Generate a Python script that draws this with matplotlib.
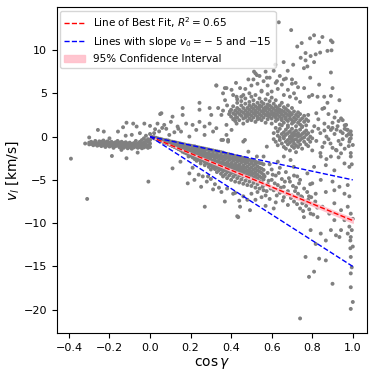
import numpy as np
import matplotlib
matplotlib.use("Agg")
import matplotlib.pyplot as plt

# ---- data (cos gamma, v_l) ----
# dense clusters written as columns: (x, [y values])
tail_cols = [
    (-0.32, [-0.8]), (-0.30, [-0.7, -0.9]), (-0.29, [-0.85, -0.6]),
    (-0.28, [-0.75, -1.0]), (-0.27, [-0.9, -0.65, -0.5]), (-0.26, [-0.8, -1.05]),
    (-0.25, [-0.7, -0.95, -0.55]), (-0.24, [-0.85, -1.1, -0.6]), (-0.23, [-0.75, -1.0, -0.45]),
    (-0.22, [-0.9, -0.65, -1.2]), (-0.21, [-0.8, -1.0, -0.55]), (-0.20, [-0.7, -0.95, -1.15]),
    (-0.19, [-0.85, -0.6, -1.05]), (-0.18, [-0.75, -1.0, -1.3]), (-0.17, [-0.9, -0.65, -1.1]),
    (-0.16, [-0.8, -1.05, -0.5]), (-0.15, [-0.95, -0.7, -1.25]), (-0.14, [-0.85, -1.1, -0.6]),
    (-0.13, [-1.0, -0.75, -1.3]), (-0.12, [-0.9, -1.15, -0.65]), (-0.11, [-1.05, -0.8, -1.35]),
    (-0.10, [-0.95, -1.2, -0.7]), (-0.09, [-1.1, -0.85, -1.4]), (-0.08, [-1.0, -1.25, -0.75]),
    (-0.07, [-1.15, -0.9, -0.5]), (-0.06, [-1.05, -1.3, -0.8]), (-0.05, [-1.2, -0.95, -0.6]),
    (-0.04, [-1.1, -1.35, -0.85, -0.4]), (-0.03, [-1.25, -1.0, -0.7, -0.2]),
    (-0.02, [-1.15, -0.9, -0.5, 0.1]), (-0.01, [-1.3, -1.05, -0.6, -0.3]),
    (0.00, [-1.2, -0.8, -0.4, 0.3]),
]

wedge_cols = [
    (0.01, [-0.05, -0.1]), (0.02, [-0.12, -0.2, -0.08]), (0.03, [-0.2, -0.28, -0.14]),
    (0.04, [-0.22, -0.38, -0.3]), (0.05, [-0.3, -0.45, -0.26, -0.52]),
    (0.06, [-0.33, -0.55, -0.42]), (0.07, [-0.4, -0.62, -0.51, -0.7]),
    (0.08, [-0.41, -0.77, -0.58]), (0.09, [-0.5, -0.66, -0.88, -0.45]),
    (0.10, [-0.55, -0.98, -0.72, -0.85]), (0.11, [-0.6, -0.8, -1.1, -0.95]),
    (0.12, [-0.63, -1.2, -0.9, -0.74]), (0.13, [-0.7, -1.02, -1.3, -0.85, -1.15]),
    (0.14, [-0.75, -1.25, -0.95, -1.45]), (0.15, [-0.8, -1.1, -1.55, -1.35, -0.93]),
    (0.16, [-0.85, -1.28, -1.62, -1.05, -1.75]), (0.17, [-0.9, -1.45, -1.18, -1.85, -1.6]),
    (0.18, [-1.0, -1.32, -1.7, -1.95, -1.52]), (0.19, [-1.0, -1.6, -1.25, -2.05, -1.82, -2.3]),
    (0.20, [-1.05, -1.48, -1.92, -1.7, -2.2]), (0.21, [-1.1, -1.35, -1.75, -2.1, -2.4, -1.58]),
    (0.22, [-1.12, -1.9, -1.5, -2.25, -2.6, -2.0]), (0.23, [-1.2, -1.65, -2.05, -1.45, -2.45, -2.8]),
    (0.24, [-1.25, -1.8, -2.3, -1.55, -2.65, -2.05]), (0.25, [-1.3, -2.0, -1.7, -2.5, -2.85, -2.25, -3.1]),
    (0.26, [-1.35, -1.85, -2.2, -2.7, -1.6, -2.45]), (0.27, [-1.4, -2.1, -1.75, -2.55, -2.95, -2.35, -3.3]),
    (0.28, [-1.45, -1.95, -2.3, -2.75, -3.05, -2.5]), (0.29, [-1.5, -2.2, -1.85, -2.65, -3.2, -2.45, -3.5]),
    (0.30, [-1.55, -2.05, -2.4, -2.9, -3.3, -2.7, -3.8]), (0.31, [-1.6, -2.3, -1.95, -2.8, -3.1, -3.55]),
    (0.32, [-1.65, -2.15, -2.55, -3.0, -3.4, -2.8, -3.75]), (0.33, [-1.7, -2.4, -2.05, -2.9, -3.25, -3.6, -4.1]),
    (0.34, [-1.75, -2.25, -2.7, -3.15, -3.5, -2.95, -3.9]), (0.35, [-1.8, -2.5, -2.15, -3.05, -3.4, -3.75, -4.3]),
    (0.36, [-1.85, -2.35, -2.8, -3.3, -3.6, -3.05, -4.0, -4.6]),
    (0.37, [-1.95, -2.6, -2.25, -3.15, -3.5, -3.85, -4.4]),
    (0.38, [-2.0, -2.45, -2.95, -3.4, -3.7, -4.1, -4.8, -3.2]),
    (0.39, [-2.05, -2.7, -2.3, -3.25, -3.6, -4.0, -4.5]),
    (0.40, [-2.1, -2.55, -3.05, -3.5, -3.85, -4.25, -5.0, -3.3]),
    (0.41, [-2.2, -2.8, -2.45, -3.3, -3.7, -4.1, -4.65]),
    (0.42, [-2.25, -2.65, -3.15, -3.6, -3.95, -4.4, -5.2, -3.4]),
    (0.43, [-2.3, -2.9, -2.55, -3.4, -3.8, -4.2, -4.8]),
    (0.44, [-2.35, -2.75, -3.25, -3.7, -4.05, -4.5, -5.3, -3.5]),
    (0.45, [-2.4, -3.0, -2.65, -3.55, -3.9, -4.35, -4.95]),
    (0.46, [-2.5, -2.85, -3.35, -3.8, -4.15, -4.6, -5.45, -3.65]),
    (0.47, [-2.55, -3.1, -2.75, -3.6, -4.0, -4.45, -5.1]),
    (0.48, [-2.6, -2.95, -3.45, -3.9, -4.3, -4.75, -5.6]),
    (0.49, [-2.7, -3.2, -3.7, -4.1, -4.55, -5.2]),
    (0.50, [-2.75, -3.05, -3.55, -4.0, -4.4, -4.9, -5.7]),
    (0.51, [-2.8, -3.3, -3.8, -4.25, -4.7, -5.35]),
    (0.52, [-2.9, -3.15, -3.65, -4.1, -4.55, -5.0, -5.9]),
    (0.53, [-3.0, -3.45, -3.9, -4.4, -4.85, -5.5]),
    (0.54, [-3.05, -3.6, -4.05, -4.6, -5.15, -6.0]),
    (0.55, [-3.1, -3.7, -4.2, -4.75, -5.3]),
    (0.56, [-3.2, -3.85, -4.4, -4.95, -5.6, -6.2]),
]

upper_cols = [
    (0.40, [2.3, 3.1]), (0.41, [2.0, 2.7, 3.5]), (0.42, [2.5, 3.0, 1.8]),
    (0.43, [2.2, 3.3, 2.8, 3.9]), (0.44, [1.9, 2.6, 3.1]), (0.45, [2.4, 3.6, 2.9, 4.1]),
    (0.46, [2.1, 2.75, 3.3, 1.5]), (0.47, [2.5, 3.0, 3.8, 2.2, 4.4]), (0.48, [1.8, 2.8, 3.3, 2.4]),
    (0.49, [2.1, 2.6, 3.1, 3.6, 4.0]), (0.50, [2.4, 2.9, 3.4, 1.9, 4.6]),
    (0.51, [2.2, 2.7, 3.2, 3.7, 4.2]), (0.52, [1.7, 2.5, 3.0, 3.5, 2.9, 4.8]),
    (0.53, [2.3, 2.8, 3.3, 3.9, 2.0]), (0.54, [2.1, 2.6, 3.1, 3.6, 4.4, 3.4]),
    (0.55, [2.4, 2.9, 3.5, 1.9, 4.0, 5.2]), (0.56, [2.2, 2.7, 3.2, 3.8, 3.0]),
    (0.57, [1.6, 2.5, 3.0, 3.4, 4.3]), (0.58, [2.0, 2.8, 3.3, 3.7, 2.4, 4.9]),
    (0.59, [2.3, 2.6, 3.1, 3.6, 4.1]), (0.60, [1.5, 2.1, 2.9, 3.4, 2.6, 4.5]),
    (0.61, [2.4, 2.7, 3.2, 3.8]), (0.62, [1.8, 2.2, 3.0, 3.5, 2.6, 4.2]),
    (0.63, [2.0, 2.5, 2.9, 3.3]), (0.64, [1.4, 2.3, 2.8, 3.6, 3.1]),
    (0.65, [1.9, 2.1, 2.6, 3.0, 3.9]), (0.66, [1.6, 2.4, 2.9, 3.4]),
    (0.67, [2.0, 2.2, 2.7, 3.2]), (0.68, [1.3, 1.8, 2.5, 3.0, 3.6]),
    (0.69, [2.1, 2.4, 2.8]), (0.70, [1.5, 1.9, 2.6, 3.3]), (0.71, [1.7, 2.2, 2.9]),
    (0.72, [1.2, 2.0, 2.5]), (0.73, [1.6, 2.3, 2.8]), (0.74, [1.4, 1.9, 2.6]),
    (0.75, [1.1, 2.1]), (0.76, [1.7, 2.4]), (0.77, [1.3, 2.0]), (0.78, [1.8, 2.5]),
]

second_cols = [
    (0.61, [0.4, -0.3]), (0.62, [1.0, -0.6]), (0.63, [0.1, 0.6, -1.0]),
    (0.64, [-0.4, 0.9, -0.1]), (0.65, [0.3, -0.8, 1.3]), (0.66, [-0.2, 0.5, -1.2, 0.0]),
    (0.67, [0.2, -0.6, 0.8, -1.4]), (0.68, [-0.4, 0.4, -0.9, 1.1]),
    (0.69, [0.0, -0.7, 0.6, -1.6, -0.2]), (0.70, [-0.5, 0.3, -1.1, 0.9, -0.1]),
    (0.71, [0.1, -0.8, 0.5, -1.3, -0.4]), (0.72, [-0.3, 0.7, -1.0, 0.2, -1.8]),
    (0.73, [0.0, -0.6, 0.4, -1.2]), (0.74, [-0.4, 0.8, -0.9, 0.1]),
    (0.75, [0.3, -0.2, -1.4, 1.2]), (0.76, [-0.6, 0.5, -0.1]), (0.77, [0.2, -0.9, 0.7]),
    (0.78, [-0.3, 0.4, -1.1]), (0.79, [0.0, -0.6]), (0.80, [0.6, -0.2]),
]

# sparse points as (x, y) pairs
lobe_pts = [
    (0.49, 5.0), (0.50, 5.9), (0.51, 6.6), (0.52, 7.3), (0.53, 6.1), (0.54, 7.0), (0.55, 5.3),
    (0.56, 6.4), (0.57, 7.5), (0.58, 5.9), (0.59, 6.8), (0.60, 5.2), (0.61, 7.6), (0.62, 6.2),
    (0.63, 5.5), (0.64, 7.0), (0.65, 6.0), (0.66, 4.8), (0.67, 6.7), (0.68, 5.4), (0.69, 4.6),
    (0.70, 6.1), (0.71, 5.0), (0.72, 4.4), (0.73, 5.7), (0.74, 4.0), (0.45, 4.6), (0.47, 5.5),
    (0.41, 4.8), (0.43, 4.3), (0.38, 3.6), (0.36, 3.0), (0.39, 2.6), (0.37, 4.2),
    (0.513, 7.5), (0.527, 7.1), (0.485, 6.6), (0.576, 6.8), (0.626, 6.4), (0.66, 6.6),
    (0.70, 6.6), (0.718, 6.2), (0.76, 5.6), (0.784, 4.6), (0.327, 5.9), (0.377, 5.6), (0.427, 4.6),
]

top_pts = [
    (0.635, 13.2), (0.696, 12.3), (0.809, 11.7), (0.850, 11.5), (0.789, 11.35), (0.892, 11.1),
    (0.900, 10.9), (0.834, 10.9), (0.748, 10.8), (0.726, 10.4), (0.875, 9.9), (0.895, 9.96),
    (0.839, 9.7), (0.767, 9.65), (0.817, 9.5), (0.792, 9.3), (0.743, 9.1), (0.767, 8.8),
    (0.659, 8.6), (0.706, 8.3), (0.809, 8.6), (0.776, 8.1), (0.679, 7.6), (0.759, 7.9),
    (0.892, 7.4), (0.618, 8.3), (0.79, 6.8), (0.834, 6.0), (0.90, 5.6), (0.859, 4.6),
    (0.892, 4.7), (0.934, 4.2), (0.875, 3.9), (0.826, 4.6), (0.80, 4.8), (0.859, 3.3),
    (0.917, 2.9), (0.942, 2.1), (0.967, 1.35), (0.975, 0.77), (0.925, 1.2), (0.892, 0.77),
    (0.992, 0.19), (0.983, -0.58), (1.0, -0.97),
]

left_pts = [
    (-0.257, 0.77), (-0.228, 0.58), (-0.30, -0.1), (-0.116, 1.6), (-0.083, 1.5), (-0.066, 1.16),
    (-0.028, 1.5), (-0.158, 0.58), (-0.133, 1.08), (0.0, 1.24), (0.025, 0.85), (0.05, 2.6),
    (-0.188, -2.24), (-0.116, -2.5), (-0.061, -1.85), (-0.141, -1.54), (-0.008, -5.2),
    (-0.31, -7.2), (-0.39, -2.55), (-0.05, 0.4), (-0.09, 0.2), (-0.2, -0.2), (-0.12, 0.1),
]

mid_pts = [
    (0.056, 2.7), (0.111, 2.3), (0.161, 3.3), (0.161, 2.5), (0.244, 3.9), (0.244, 3.1),
    (0.294, 3.3), (0.302, 2.5), (0.327, 5.9), (0.369, 5.6), (0.36, 5.0), (0.424, 6.2),
    (0.402, 5.4), (0.444, 5.6), (0.46, 4.8), (0.336, 3.3), (0.352, 2.5), (0.394, 2.9),
    (0.419, 2.1), (0.037, 1.5), (0.07, 1.35), (0.103, 1.7), (0.136, 1.16), (0.178, 1.5),
    (0.21, 1.35), (0.244, 1.7), (0.269, 1.16), (0.294, 1.5), (0.327, 0.97), (0.377, 1.35),
    (0.402, 0.77), (0.228, 0.77), (0.153, 0.58), (0.311, 0.58), (0.377, 0.19), (0.427, 1.5),
    (0.36, -0.39), (0.385, -0.39), (0.46, -0.58), (0.194, 0.0), (0.269, 0.19), (0.095, 0.19),
    (0.02, 0.4), (0.045, 0.6), (0.08, 0.9), (0.12, 0.5), (0.06, 1.0), (0.14, 0.9),
    (0.352, -0.39), (0.385, -0.58), (0.468, -0.39), (0.485, -1.74), (0.576, -1.16),
    (0.56, -2.3), (0.527, -2.3),
]

below_pts = [
    (0.111, -3.67), (0.194, -4.25), (0.186, -5.4), (0.219, -5.0), (0.252, -5.8), (0.286, -4.6),
    (0.311, -6.1), (0.352, -6.4), (0.41, -6.6), (0.369, -7.5), (0.444, -8.1), (0.493, -8.5),
    (0.435, -9.3), (0.27, -8.1), (0.43, -9.2),
    (0.15, -2.9), (0.21, -3.6), (0.24, -4.4), (0.28, -5.2), (0.32, -5.5), (0.34, -5.9),
    (0.38, -6.0), (0.42, -6.5), (0.46, -6.9), (0.48, -7.3), (0.50, -6.6), (0.44, -7.4),
    (0.30, -4.9), (0.26, -4.6),
]

band_pts = [
    (0.57, -6.8), (0.58, -4.2), (0.58, -5.5), (0.59, -7.2), (0.60, -3.8), (0.60, -5.0),
    (0.61, -6.2), (0.62, -4.5), (0.62, -7.6), (0.63, -5.6), (0.64, -3.6), (0.64, -6.5),
    (0.65, -4.9), (0.66, -7.0), (0.66, -5.8), (0.67, -4.1), (0.68, -6.3), (0.68, -7.9),
    (0.69, -5.2), (0.70, -6.8), (0.71, -4.5), (0.71, -7.5), (0.72, -5.9), (0.73, -6.6),
    (0.74, -8.3), (0.74, -5.0), (0.75, -7.0), (0.76, -6.0), (0.77, -8.0), (0.78, -7.3),
    (0.79, -5.5), (0.80, -7.8), (0.55, -7.0), (0.53, -6.4), (0.57, -8.0), (0.61, -8.3),
    (0.52, -7.3), (0.59, -3.2), (0.63, -2.9),
    (0.555, -5.8), (0.565, -4.6), (0.575, -6.3), (0.585, -5.1), (0.595, -6.0), (0.605, -4.4),
    (0.615, -5.4), (0.625, -6.8), (0.635, -4.2), (0.645, -5.9), (0.655, -7.4), (0.665, -5.2),
    (0.675, -6.6), (0.685, -4.8), (0.695, -7.1), (0.705, -5.7), (0.715, -6.3), (0.725, -7.8),
    (0.735, -5.4), (0.745, -6.9), (0.755, -8.6), (0.765, -7.5), (0.775, -6.4), (0.785, -8.4),
    (0.795, -7.0), (0.805, -9.0), (0.815, -7.5), (0.825, -8.2),
]

right_pts = [
    (0.81, 1.2), (0.82, -0.5), (0.83, 2.0), (0.84, 0.4), (0.85, -1.2), (0.86, 1.5), (0.87, 0.0),
    (0.88, 2.6), (0.89, -0.8), (0.90, 1.0), (0.91, 0.3), (0.92, -1.6), (0.93, 1.8), (0.94, 0.6),
    (0.95, -0.3), (0.96, 1.3), (0.97, 0.1), (0.98, -1.1), (0.82, 2.7), (0.85, 3.2), (0.88, 1.1),
    (0.91, 2.2), (0.94, -0.9), (0.96, 0.9), (0.99, -1.9), (0.995, -3.2), (0.99, -0.2),
    (0.84, -1.9), (0.87, -2.6), (0.80, -1.6), (0.93, -2.4),
    (0.86, 0.7), (0.88, -0.3), (0.90, 1.6), (0.92, 0.8), (0.93, -0.5), (0.95, 0.4),
    (0.96, -1.4), (0.97, 0.8), (0.98, 0.3), (0.985, -0.3), (0.99, 0.6), (0.95, 1.9),
    (0.90, -1.3), (0.86, -0.7), (0.83, 0.9),
]

low_right_pts = [
    (0.74, -21.0), (0.99, -19.9), (1.0, -19.1), (0.767, -13.9), (0.784, -16.2), (0.809, -15.6),
    (0.834, -14.1), (0.867, -14.3), (0.90, -17.0), (0.99, -17.4), (0.99, -15.8), (0.995, -15.1),
    (0.99, -13.9), (0.988, -12.9), (1.0, -12.7), (0.817, -12.4), (0.867, -12.0), (0.892, -10.8),
    (0.917, -11.4), (0.934, -11.6), (0.942, -10.8), (0.975, -11.2), (0.792, -10.8), (0.842, -11.2),
    (0.909, -9.65), (0.959, -9.65), (0.983, -10.4), (0.995, -10.8), (0.99, -11.6), (0.988, -12.0),
    (1.0, -9.5), (0.99, -8.9), (0.975, -8.1), (0.942, -8.5), (0.909, -7.7), (0.884, -8.9),
    (0.85, -8.1), (0.826, -9.3), (0.792, -8.9), (0.759, -9.3), (0.751, -7.7), (0.784, -6.9),
    (0.817, -6.6), (0.867, -6.4), (0.909, -6.2), (0.959, -6.6), (0.983, -6.9), (0.975, -5.6),
    (0.934, -5.8), (0.90, -5.2), (0.842, -5.0), (0.80, -5.4), (0.983, -3.5), (0.99, -2.3),
    (0.959, -3.1), (0.909, -3.9), (0.867, -3.3), (0.892, -2.3), (0.842, -2.3), (0.809, -3.5),
    (0.776, -4.25), (0.726, -4.6), (0.709, -3.5), (0.693, -2.7), (0.66, -2.3), (0.942, -1.93),
    (0.917, -1.54),
]

fit_slope = -9.7
fit_r2 = 0.65
ci_halfwidth = 0.25
ref_slopes = [-5, -15]

# ---- assemble ----
pairs = []
for cols in (tail_cols, wedge_cols, upper_cols, second_cols):
    for cx, ys in cols:
        pairs += [(cx, y) for y in ys]
for pts in (lobe_pts, top_pts, left_pts, mid_pts, below_pts, band_pts, right_pts, low_right_pts):
    pairs += pts
pts_arr = np.array(pairs)
cos_g = pts_arr[:, 0]
v_l = pts_arr[:, 1]

fig, ax = plt.subplots(figsize=(3.74, 3.74), dpi=100)
fig.subplots_adjust(left=0.152, right=0.981, bottom=0.109, top=0.980)

ax.scatter(cos_g, v_l, s=8, color='grey', edgecolors='none', zorder=1)

xl = np.array([0.0, 1.0])
ax.fill_between(xl, (fit_slope - ci_halfwidth) * xl, (fit_slope + ci_halfwidth) * xl,
                color='pink', alpha=0.9, zorder=2, label='95% Confidence Interval')
ax.plot(xl, fit_slope * xl, 'r--', lw=1, zorder=3,
        label=f'Line of Best Fit, $R^2 = {fit_r2:.2f}$')
ax.plot(xl, ref_slopes[0] * xl, 'b--', lw=1, zorder=3,
        label=f'Lines with slope $v_0 = -$ {abs(ref_slopes[0])} and ${ref_slopes[1]}$')
ax.plot(xl, ref_slopes[1] * xl, 'b--', lw=1, zorder=3)

ax.set_xlabel(r'$\cos\gamma$', fontsize=10, labelpad=2)
ax.set_ylabel(r'$v_l$ [km/s]', fontsize=10, labelpad=2)
ax.tick_params(labelsize=8)
ax.set_xticks([-0.4, -0.2, 0.0, 0.2, 0.4, 0.6, 0.8, 1.0])
ax.set_yticks([-20, -15, -10, -5, 0, 5, 10])

handles, labels = ax.get_legend_handles_labels()
order = [1, 2, 0]
ax.legend([handles[i] for i in order], [labels[i] for i in order],
          loc='upper left', fontsize=7.5, borderaxespad=0.3)

plt.savefig('out.png', dpi=100)
